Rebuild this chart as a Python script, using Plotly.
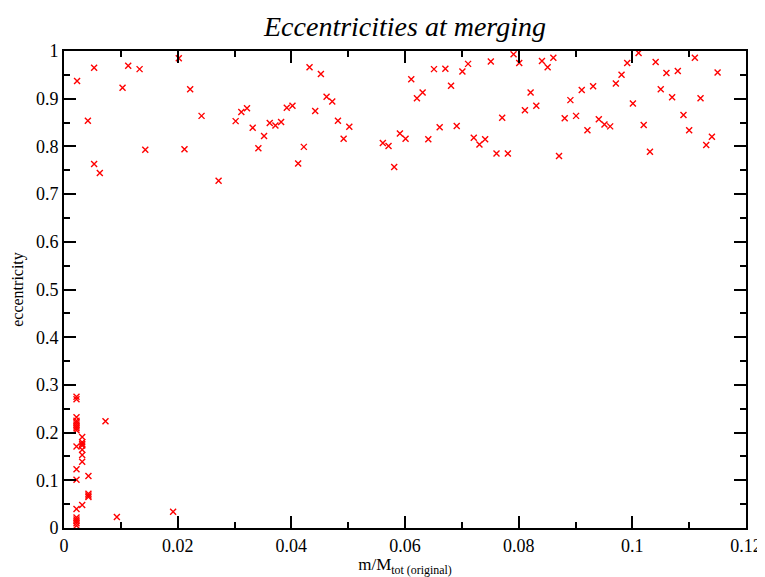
import plotly.graph_objects as go

# Upper group (high eccentricity)
x_high = [0.0023, 0.0053, 0.0042, 0.0053, 0.0063, 0.0103, 0.0113, 0.0133, 0.0143,
          0.0202, 0.0212, 0.0222, 0.0242, 0.0272, 0.0302, 0.0312, 0.0322, 0.0332,
          0.0342, 0.0352, 0.0362, 0.0372, 0.0382, 0.0392, 0.0402, 0.0412, 0.0422,
          0.0432, 0.0442, 0.0452, 0.0462, 0.0472, 0.0482, 0.0492, 0.0502,
          0.0561, 0.0571, 0.0581, 0.0591, 0.0601, 0.0611, 0.0621, 0.0631, 0.0641,
          0.0651, 0.0661, 0.0671, 0.0681, 0.0691, 0.0701, 0.0711, 0.0721, 0.0731,
          0.0741, 0.0751, 0.0761, 0.0771, 0.0781, 0.0791, 0.0801, 0.0811, 0.0821,
          0.0831, 0.0841, 0.0851, 0.0861, 0.0871, 0.0881, 0.0891, 0.0901, 0.0911,
          0.0921, 0.0931, 0.0941, 0.0951, 0.0961, 0.0971, 0.0981, 0.0991, 0.1001,
          0.1011, 0.1020, 0.1031, 0.1041, 0.1050, 0.1060, 0.1070, 0.1080, 0.1090,
          0.1100, 0.1110, 0.1120, 0.1130, 0.1140, 0.1150]
y_high = [0.937, 0.965, 0.854, 0.763, 0.744, 0.923, 0.969, 0.962, 0.793,
          0.985, 0.794, 0.920, 0.864, 0.728, 0.853, 0.872, 0.880, 0.839,
          0.796, 0.822, 0.849, 0.844, 0.851, 0.881, 0.885, 0.764, 0.799,
          0.966, 0.874, 0.952, 0.904, 0.894, 0.854, 0.816, 0.841,
          0.807, 0.801, 0.757, 0.827, 0.816, 0.941, 0.901, 0.913, 0.815,
          0.962, 0.840, 0.963, 0.927, 0.843, 0.957, 0.973, 0.818, 0.804,
          0.815, 0.978, 0.785, 0.860, 0.785, 0.993, 0.975, 0.876, 0.913,
          0.885, 0.979, 0.966, 0.986, 0.780, 0.859, 0.897, 0.864, 0.918,
          0.834, 0.926, 0.857, 0.846, 0.842, 0.932, 0.950, 0.975, 0.890,
          0.996, 0.845, 0.789, 0.977, 0.920, 0.954, 0.903, 0.958, 0.866,
          0.834, 0.986, 0.901, 0.803, 0.820, 0.955]

# Lower group (low eccentricity)
x_low = [0.0022] * 18 + [0.0032] * 8 + [0.0043] * 4 + [0.0073, 0.0093, 0.0192]
y_low = [0.275, 0.270, 0.232, 0.225, 0.221, 0.217, 0.213, 0.209, 0.205, 0.171,
         0.123, 0.101, 0.040, 0.022, 0.018, 0.014, 0.010, 0.005,
         0.191, 0.180, 0.176, 0.173, 0.164, 0.153, 0.139, 0.048,
         0.109, 0.072, 0.068, 0.065,
         0.224, 0.023, 0.034]

x_all = x_high + x_low
y_all = y_high + y_low

x_ticks = [0, 0.02, 0.04, 0.06, 0.08, 0.1, 0.12]
x_ticklabels = ["0", "0.02", "0.04", "0.06", "0.08", "0.1", "0.12"]
y_ticks = [0, 0.1, 0.2, 0.3, 0.4, 0.5, 0.6, 0.7, 0.8, 0.9, 1]
y_ticklabels = ["0", "0.1", "0.2", "0.3", "0.4", "0.5", "0.6", "0.7", "0.8", "0.9", "1"]

SERIF = "Liberation Serif, Times New Roman, serif"

# The page body has an 8px default margin, so the figure is sized to the visible area.
W, H = 757, 569

fig = go.Figure()
fig.add_trace(go.Scatter(
    x=x_all, y=y_all, mode="markers",
    marker=dict(symbol="x-thin", size=6, color="red",
                line=dict(color="red", width=1.4)),
    showlegend=False,
))

axis_common = dict(
    showgrid=False, zeroline=False, showline=True, linecolor="black", linewidth=2,
    mirror="allticks", ticks="inside", tickcolor="black", tickwidth=1.5, ticklen=12,
    tickfont=dict(family=SERIF, size=18, color="black"), automargin=False,
)

fig.update_layout(
    width=W, height=H,
    margin=dict(l=56, r=19, t=43, b=49),
    paper_bgcolor="white", plot_bgcolor="white",
    title=dict(text="<i>Eccentricities at merging</i>", x=(56 + 682 / 2) / W, xanchor="center",
               y=1 - 18 / H, yanchor="middle", automargin=False,
               font=dict(family=SERIF, size=28, color="black")),
    xaxis=dict(range=[0, 0.12], tickvals=x_ticks, ticktext=x_ticklabels,
               minor=dict(dtick=0.01, ticks="inside", ticklen=6, tickcolor="black", tickwidth=1.5),
               title=dict(text="m/M<sub>tot (original)</sub>", standoff=4,
                          font=dict(family=SERIF, size=17, color="black")),
               **axis_common),
    yaxis=dict(range=[0, 1], tickvals=y_ticks, ticktext=y_ticklabels,
               minor=dict(dtick=0.05, ticks="inside", ticklen=6, tickcolor="black", tickwidth=1.5),
               title=dict(text="eccentricity", standoff=8,
                          font=dict(family=SERIF, size=16, color="black")),
               **axis_common),
)

fig.write_html("out.html")
